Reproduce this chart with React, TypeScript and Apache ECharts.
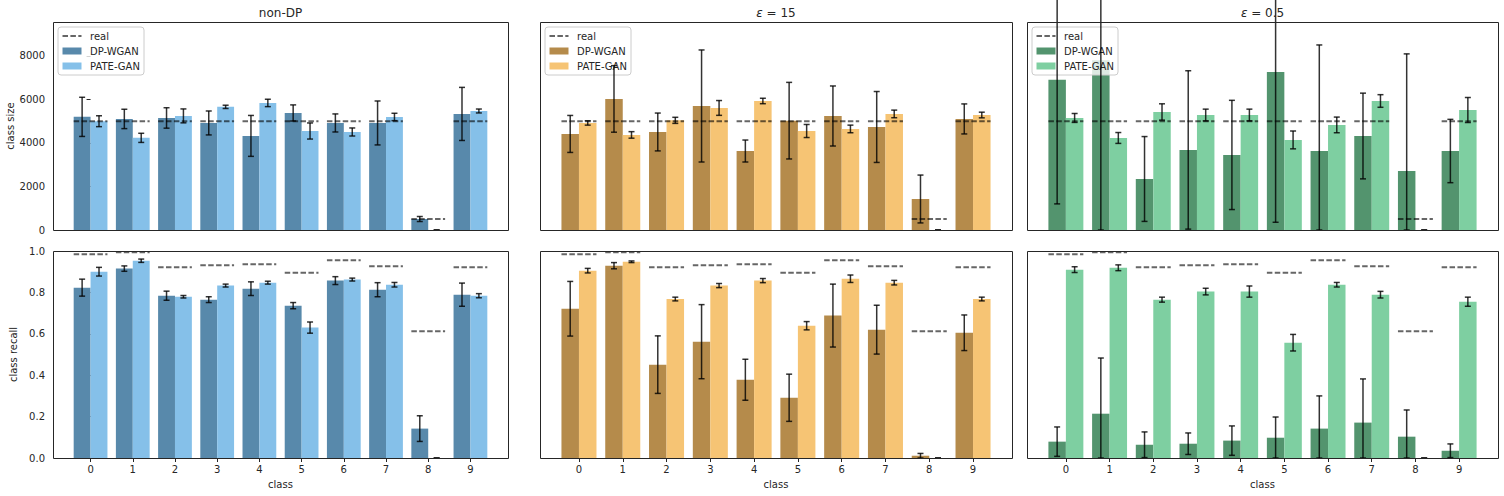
import React, { useEffect, useRef } from "react";
import * as echarts from "echarts";

// ---------- data ----------
const classes = [0, 1, 2, 3, 4, 5, 6, 7, 8, 9];
const sizeTicks = [0, 2000, 4000, 6000, 8000];
const recallTicks = [0, 0.2, 0.4, 0.6, 0.8, 1.0];

const realSize = [5000, 5000, 5000, 5000, 5000, 5000, 5000, 5000, 510, 5000];
const realRecall = [0.984, 0.994, 0.921, 0.931, 0.936, 0.895, 0.955, 0.926, 0.612, 0.921];

// non-DP: class size
const nonDpSizeDp = [5200, 5105, 5150, 4920, 4325, 5380, 4920, 4920, 505, 5335];
const nonDpSizeDpErr = [900, 445, 470, 550, 940, 370, 415, 1010, 115, 1220];
const nonDpSizePate = [5000, 4235, 5245, 5660, 5840, 4550, 4505, 5195, 0, 5470];
const nonDpSizePateErr = [250, 210, 320, 75, 170, 370, 185, 170, 0, 90];
// eps = 15: class size
const eps15SizeDp = [4415, 6025, 4505, 5700, 3630, 5025, 5240, 4735, 1425, 5105];
const eps15SizeDpErr = [850, 1530, 870, 2575, 505, 1760, 1380, 1630, 1100, 690];
const eps15SizePate = [4920, 4370, 5040, 5610, 5930, 4550, 4645, 5335, 0, 5285];
const eps15SizePateErr = [100, 150, 140, 340, 125, 300, 175, 175, 0, 130];
// eps = 0.5: class size
const eps05SizeDp = [6900, 7800, 2345, 3680, 3450, 7265, 3630, 4320, 2715, 3630];
const eps05SizeDpErr = [5700, 8000, 1950, 3640, 2510, 6910, 4875, 1970, 5380, 1455];
const eps05SizePate = [5150, 4230, 5425, 5285, 5285, 4140, 4830, 5930, 0, 5515];
const eps05SizePateErr = [205, 250, 375, 270, 270, 410, 360, 290, 0, 575];

// non-DP: class recall
const nonDpRecallDp = [0.823, 0.915, 0.784, 0.765, 0.818, 0.736, 0.857, 0.813, 0.142, 0.789];
const nonDpRecallDpErr = [0.041, 0.013, 0.022, 0.014, 0.033, 0.015, 0.019, 0.034, 0.062, 0.056];
const nonDpRecallPate = [0.9, 0.953, 0.779, 0.833, 0.847, 0.63, 0.862, 0.837, 0, 0.784];
const nonDpRecallPateErr = [0.021, 0.008, 0.006, 0.007, 0.007, 0.027, 0.007, 0.011, 0, 0.01];
// eps = 15: class recall
const eps15RecallDp = [0.721, 0.929, 0.451, 0.562, 0.378, 0.291, 0.688, 0.62, 0.011, 0.605];
const eps15RecallDpErr = [0.132, 0.015, 0.139, 0.179, 0.099, 0.114, 0.152, 0.118, 0.011, 0.086];
const eps15RecallPate = [0.905, 0.948, 0.768, 0.833, 0.857, 0.639, 0.866, 0.847, 0, 0.768];
const eps15RecallPateErr = [0.011, 0.004, 0.009, 0.01, 0.01, 0.02, 0.018, 0.011, 0, 0.009];
// eps = 0.5: class recall
const eps05RecallDp = [0.079, 0.214, 0.064, 0.069, 0.084, 0.098, 0.142, 0.171, 0.103, 0.035];
const eps05RecallDpErr = [0.071, 0.269, 0.062, 0.052, 0.071, 0.1, 0.158, 0.211, 0.129, 0.033];
const eps05RecallPate = [0.91, 0.919, 0.765, 0.804, 0.804, 0.557, 0.837, 0.789, 0, 0.755];
const eps05RecallPateErr = [0.014, 0.014, 0.012, 0.016, 0.027, 0.04, 0.011, 0.016, 0, 0.022];

// ---------- layout / style ----------
const W = 1504;
const H = 496;
const FONT = "DejaVu Sans";
const TXT = "#262626";
const cols = [
  { left: 53, width: 455 },
  { left: 540, width: 472 },
  { left: 1027, width: 471 },
];
const rows = [
  { top: 22, height: 208 },
  { top: 251, height: 207 },
];
const X_MIN = -0.89;
const X_MAX = 9.89;
const BAR_W = 0.4;

const panels = [
  {
    title: "non-DP",
    dark: "#5889ab",
    light: "#85c0e9",
    size: [nonDpSizeDp, nonDpSizeDpErr, nonDpSizePate, nonDpSizePateErr],
    recall: [nonDpRecallDp, nonDpRecallDpErr, nonDpRecallPate, nonDpRecallPateErr],
  },
  {
    title: "{i|ε} = 15",
    dark: "#b58b4b",
    light: "#f6c474",
    size: [eps15SizeDp, eps15SizeDpErr, eps15SizePate, eps15SizePateErr],
    recall: [eps15RecallDp, eps15RecallDpErr, eps15RecallPate, eps15RecallPateErr],
  },
  {
    title: "{i|ε} = 0.5",
    dark: "#53946e",
    light: "#7ecfa1",
    size: [eps05SizeDp, eps05SizeDpErr, eps05SizePate, eps05SizePateErr],
    recall: [eps05RecallDp, eps05RecallDpErr, eps05RecallPate, eps05RecallPateErr],
  },
];

function barSeries(g: number, values: number[], color: string, offset: number, name: string) {
  return {
    type: "custom",
    name,
    xAxisIndex: g,
    yAxisIndex: g,
    z: 2,
    data: classes.map((c, i) => [c, values[i]]),
    renderItem: (_p: any, api: any) => {
      const x = api.value(0);
      const v = api.value(1);
      const a = api.coord([x + offset, v]);
      const b = api.coord([x + offset + BAR_W, 0]);
      return {
        type: "rect",
        shape: { x: a[0], y: a[1], width: b[0] - a[0], height: b[1] - a[1] },
        style: { fill: color },
      };
    },
  };
}

function realSeries(g: number, values: number[]) {
  return {
    type: "custom",
    name: "real",
    xAxisIndex: g,
    yAxisIndex: g,
    z: 3,
    data: classes.map((c, i) => [c, values[i]]),
    renderItem: (_p: any, api: any) => {
      const x = api.value(0);
      const v = api.value(1);
      const a = api.coord([x - 0.4, v]);
      const b = api.coord([x + 0.4, v]);
      return {
        type: "line",
        shape: { x1: a[0], y1: a[1], x2: b[0], y2: b[1] },
        style: { stroke: "rgba(0,0,0,0.6)", lineWidth: 2, lineDash: [5.5, 2.4] },
      };
    },
  };
}

function errSeries(g: number, means: number[], errs: number[], offset: number) {
  return {
    type: "custom",
    name: "err",
    xAxisIndex: g,
    yAxisIndex: g,
    z: 5,
    clip: false,
    data: classes.map((c, i) => [c + offset, Math.max(0, means[i] - errs[i]), means[i] + errs[i]]),
    renderItem: (_p: any, api: any) => {
      const x = api.value(0);
      const lo = api.coord([x, api.value(1)]);
      const hi = api.coord([x, api.value(2)]);
      const st = { stroke: "rgba(0,0,0,0.8)", lineWidth: 1.5 };
      return {
        type: "group",
        children: [
          { type: "line", shape: { x1: lo[0], y1: lo[1], x2: hi[0], y2: hi[1] }, style: st },
          { type: "line", shape: { x1: lo[0] - 3, y1: lo[1], x2: lo[0] + 3, y2: lo[1] }, style: st },
          { type: "line", shape: { x1: hi[0] - 3, y1: hi[1], x2: hi[0] + 3, y2: hi[1] }, style: st },
        ],
      };
    },
  };
}

function buildOption() {
  const grid: any[] = [];
  const xAxis: any[] = [];
  const yAxis: any[] = [];
  const series: any[] = [];
  const graphic: any[] = [];
  const txt = { fontFamily: FONT, fontSize: 10, color: TXT };

  rows.forEach((row, r) => {
    cols.forEach((col, p) => {
      const g = r * 3 + p;
      const panel = panels[p];
      const d = r === 0 ? panel.size : panel.recall;
      grid.push({ left: col.left, top: row.top, width: col.width, height: row.height, show: false });
      xAxis.push({
        type: "value",
        gridIndex: g,
        min: X_MIN,
        max: X_MAX,
        axisLine: { show: false },
        splitLine: { show: false },
        axisTick: { show: r === 1, customValues: classes, length: 4, lineStyle: { color: TXT } },
        axisLabel: { show: r === 1, customValues: classes, margin: 6, ...txt, formatter: (v: number) => String(v) },
        name: r === 1 ? "class" : "",
        nameLocation: "middle",
        nameGap: 21,
        nameTextStyle: txt,
      });
      yAxis.push({
        type: "value",
        gridIndex: g,
        min: 0,
        max: r === 0 ? 9560 : 1,
        axisLine: { show: false },
        splitLine: { show: false },
        axisTick: {
          show: p === 0,
          customValues: r === 0 ? sizeTicks : recallTicks,
          length: 4,
          lineStyle: { color: TXT },
        },
        axisLabel: {
          show: p === 0,
          customValues: r === 0 ? sizeTicks : recallTicks,
          margin: 8,
          ...txt,
          formatter: (v: number) => (r === 0 ? String(v) : v.toFixed(1)),
        },
        name: p === 0 ? (r === 0 ? "class size" : "class recall") : "",
        nameLocation: "middle",
        nameGap: 35,
        nameTextStyle: txt,
      });
      series.push(barSeries(g, d[0], panel.dark, -BAR_W, "DP-WGAN"));
      series.push(barSeries(g, d[2], panel.light, 0, "PATE-GAN"));
      series.push(realSeries(g, r === 0 ? realSize : realRecall));
      series.push(errSeries(g, d[0], d[1], -BAR_W / 2));
      series.push(errSeries(g, d[2], d[3], BAR_W / 2));

      // frame
      graphic.push({
        type: "rect",
        z: 6,
        shape: { x: col.left + 0.5, y: row.top + 0.5, width: col.width, height: row.height },
        style: { fill: "none", stroke: TXT, lineWidth: 1 },
        silent: true,
      });

      if (r === 0) {
        // title
        graphic.push({
          type: "text",
          z: 6,
          x: col.left + col.width / 2,
          y: 13,
          style: {
            text: panel.title,
            fontFamily: FONT,
            fontSize: 12,
            fill: TXT,
            align: "center",
            verticalAlign: "middle",
            rich: {
              i: { fontFamily: FONT, fontSize: 12, fontStyle: "italic", fill: TXT },
            },
          },
        });
        // legend
        const bx = col.left + 5;
        const by = row.top + 5;
        graphic.push({
          type: "group",
          z: 4,
          children: [
            {
              type: "rect",
              z: 4,
              shape: { x: bx, y: by, width: 86, height: 48, r: 3 },
              style: { fill: "rgba(255,255,255,0.8)", stroke: "#cccccc", lineWidth: 1 },
            },
            {
              type: "line",
              z: 4,
              shape: { x1: bx + 4.5, y1: by + 9, x2: bx + 23.5, y2: by + 9 },
              style: { stroke: "rgba(0,0,0,0.6)", lineWidth: 2, lineDash: [5.5, 2.4] },
            },
            {
              type: "rect",
              z: 4,
              shape: { x: bx + 4.5, y: by + 20.5, width: 19, height: 7 },
              style: { fill: panel.dark },
            },
            {
              type: "rect",
              z: 4,
              shape: { x: bx + 4.5, y: by + 35.5, width: 19, height: 7 },
              style: { fill: panel.light },
            },
            ...["real", "DP-WGAN", "PATE-GAN"].map((t, k) => ({
              type: "text",
              z: 4,
              x: bx + 32,
              y: by + 9 + 15 * k,
              style: { text: t, fontFamily: FONT, fontSize: 10, fill: TXT, verticalAlign: "middle" },
            })),
          ],
        });
      }
    });
  });

  return {
    animation: false,
    backgroundColor: "#ffffff",
    grid,
    xAxis,
    yAxis,
    series,
    graphic: { elements: graphic },
  };
}

export default function App() {
  const ref = useRef<HTMLDivElement>(null);
  useEffect(() => {
    if (!ref.current) return;
    const chart = echarts.init(ref.current, null, { renderer: "svg" });
    chart.setOption(buildOption() as any);
    return () => chart.dispose();
  }, []);
  return (
    <div
      ref={ref}
      style={{ position: "fixed", left: 0, top: 0, width: W, height: H, background: "#fff" }}
    />
  );
}
